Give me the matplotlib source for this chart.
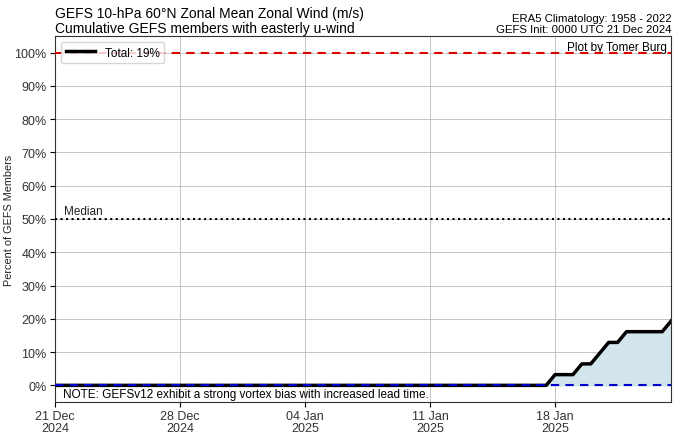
import numpy as np
import matplotlib
matplotlib.use("Agg")
import matplotlib.pyplot as plt
from datetime import datetime, timedelta

plt.rcParams['font.family'] = ['Liberation Sans', 'DejaVu Sans']

# GEFS members with easterly u-wind, every 12 h from init
n_members = 31
init = datetime(2024, 12, 21, 0)
hours = np.arange(0, 34.5 * 24 + 1, 12)
members_easterly = [0] * 56 + [1, 1, 1, 2, 2, 3, 4, 4, 5, 5, 5, 5, 5, 6]
tick_dates = [datetime(2024, 12, 21), datetime(2024, 12, 28), datetime(2025, 1, 4),
              datetime(2025, 1, 11), datetime(2025, 1, 18)]

times = [init + timedelta(hours=int(h)) for h in hours]
pct = 100.0 * np.array(members_easterly) / n_members

fig = plt.figure(figsize=(6.8, 4.39), dpi=100)
ax = fig.add_axes([0.081, 0.082, 0.906, 0.834])

ax.grid(True, color='#bbbbbb', lw=0.6)
ax.fill_between(times, 0, pct, color='#d2e4ec', zorder=2)
ax.plot(times, pct, color='k', lw=2.5, zorder=3, label='Total: %d%%' % round(pct[-1]))
ax.axhline(0, color='#0000cc', ls='--', lw=1.5, zorder=4, dashes=(4, 3))
ax.axhline(100, color='#dd0000', ls='--', lw=1.5, zorder=4, dashes=(4, 3))
ax.axhline(50, color='k', ls=':', lw=1.5, zorder=4)
ax.text(times[1], 51.5, 'Median', fontsize=8.5, color='#222222')

ax.set_xlim(times[0], times[-1])
ax.set_ylim(-5, 105)
ax.set_yticks(np.arange(0, 101, 10))
ax.set_yticklabels(['%d%%' % v for v in range(0, 101, 10)], fontsize=9, color='#333333')
ax.set_xticks(tick_dates)
ax.set_xticklabels([d.strftime('%d %b\n%Y') for d in tick_dates], fontsize=9, color='#333333',
                   linespacing=0.95)
ax.tick_params(length=3.5, pad=2.5)
ax.set_ylabel('Percent of GEFS Members', fontsize=7.8, color='#222222')
ax.yaxis.set_label_coords(-0.066, 0.5)
for s in ax.spines.values():
    s.set_color('#333333')

ax.legend(loc='upper left', fontsize=8.5, handlelength=2.5, borderpad=0.4)
ax.text(0.993, 0.985, 'Plot by Tomer Burg', transform=ax.transAxes, ha='right', va='top', fontsize=8.5)
ax.text(0.013, -2.6, 'NOTE: GEFSv12 exhibit a strong vortex bias with increased lead time.',
        transform=ax.get_yaxis_transform(), ha='left', va='center', fontsize=8.5, zorder=5)

ax.set_title('GEFS 10-hPa 60°N Zonal Mean Zonal Wind (m/s)\nCumulative GEFS members with easterly u-wind',
             loc='left', fontsize=10, pad=3, linespacing=1.05)
ax.set_title('ERA5 Climatology: 1958 - 2022\nGEFS Init: 0000 UTC 21 Dec 2024',
             loc='right', fontsize=8.2, pad=3, linespacing=1.05)

fig.savefig('out.png', dpi=100)
